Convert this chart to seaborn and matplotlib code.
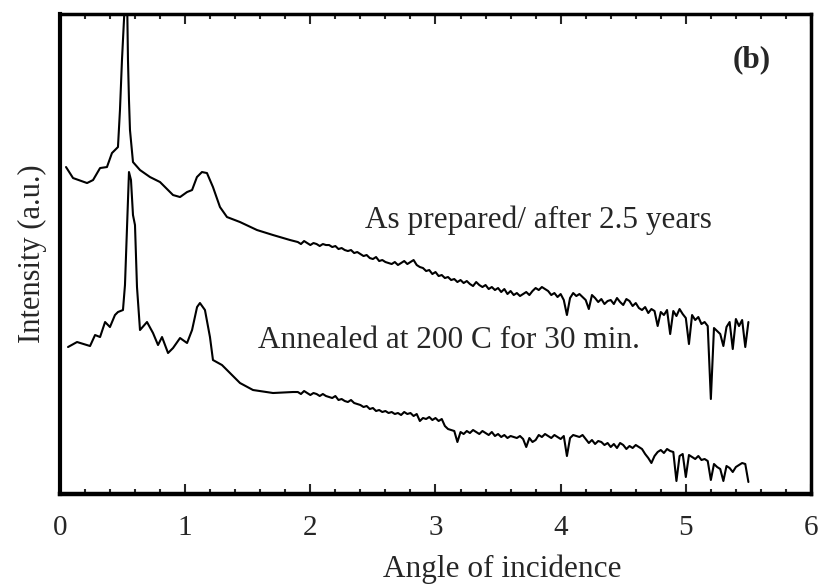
import numpy as np
import pandas as pd
import matplotlib
matplotlib.use("Agg")
import matplotlib.pyplot as plt
from matplotlib.ticker import MultipleLocator
import seaborn as sns

# ---------------- data (angle of incidence, intensity in a.u.) ----------------
# low-angle part, read point by point
prep_angle_low = [0.048, 0.104, 0.216, 0.264, 0.320, 0.375, 0.415, 0.463, 0.479, 0.495,
                  0.511, 0.523, 0.535, 0.543, 0.551, 0.559, 0.583, 0.639, 0.719, 0.799,
                  0.903, 0.959, 1.015, 1.055, 1.094, 1.134, 1.174, 1.222, 1.278, 1.334,
                  1.438, 1.574, 1.702, 1.838]
prep_int_low = [327, 316, 311, 314, 326, 327, 341, 347, 384, 434,
                474, 504, 504, 434, 394, 364, 332, 324, 317, 312,
                299, 297, 302, 304, 317, 322, 321, 307, 287, 277,
                272, 264, 259, 254]

ann_angle_low = [0.064, 0.136, 0.240, 0.280, 0.320, 0.360, 0.399, 0.439, 0.463, 0.503,
                 0.519, 0.535, 0.551, 0.567, 0.583, 0.599, 0.615, 0.639, 0.695, 0.743,
                 0.783, 0.815, 0.863, 0.903, 0.959, 1.015, 1.055, 1.095, 1.118, 1.158,
                 1.198, 1.222, 1.294, 1.358, 1.438, 1.542, 1.702, 1.862]
ann_int_low = [147, 152, 148, 159, 157, 172, 167, 179, 182, 184,
               209, 264, 322, 314, 279, 269, 207, 164, 172, 161,
               149, 157, 141, 146, 156, 151, 164, 187, 191, 184,
               157, 134, 129, 121, 111, 104, 101, 102]

# noisy high-angle part, sampled every 0.025 degree from 1.9 to 5.5
angle_step = 0.025
angle_start = 1.9
prep_int_high = [252, 250, 253, 251, 249, 251, 250, 248, 250, 249,
                 249, 247, 248, 245, 246, 244, 243, 244, 241, 242,
                 240, 238, 239, 236, 235, 237, 233, 234, 232, 231,
                 230, 232, 229, 231, 233, 230, 232, 234, 229, 227,
                 226, 223, 224, 220, 222, 218, 219, 216, 217, 214,
                 215, 212, 214, 211, 213, 210, 208, 212, 209, 207,
                 209, 205, 207, 204, 206, 202, 205, 200, 203, 199,
                 201, 198, 200, 202, 199, 203, 206, 204, 207, 205,
                 203, 199, 201, 197, 200, 194, 179, 196, 201, 198,
                 200, 197, 194, 185, 199, 196, 192, 195, 190, 193,
                 194, 190, 196, 192, 189, 195, 193, 188, 191, 186,
                 184, 187, 181, 185, 183, 168, 182, 179, 184, 160,
                 183, 178, 185, 180, 176, 150, 179, 174, 177, 170,
                 172, 168, 95, 166, 163, 160, 148, 167, 172, 145,
                 175, 168, 174, 147, 172]
ann_int_high = [102, 100, 103, 101, 99, 101, 100, 98, 100, 98,
                97, 96, 98, 94, 95, 93, 92, 94, 91, 90,
                89, 87, 88, 85, 86, 83, 84, 82, 83, 81,
                82, 80, 81, 79, 82, 80, 81, 78, 80, 73,
                76, 75, 77, 74, 76, 73, 75, 68, 65, 64,
                63, 52, 62, 60, 63, 61, 64, 62, 60, 63,
                61, 59, 62, 58, 60, 57, 59, 56, 58, 57,
                56, 58, 55, 47, 56, 52, 54, 59, 57, 60,
                58, 56, 59, 57, 55, 58, 38, 56, 59, 58,
                57, 59, 55, 51, 54, 50, 53, 52, 49, 51,
                47, 50, 46, 51, 49, 45, 48, 46, 49, 47,
                45, 40, 36, 31, 38, 42, 44, 41, 45, 43,
                42, 13, 38, 40, 17, 39, 37, 35, 38, 34,
                35, 33, 14, 30, 27, 25, 13, 28, 26, 22,
                27, 29, 31, 30, 12]

x_ticks = [0, 1, 2, 3, 4, 5, 6]
label_prep = "As prepared/ after 2.5 years"
label_ann = "Annealed at 200 C for 30 min."
panel_label = "(b)"

# ---------------- build tables ----------------
angle_high = np.round(angle_start + angle_step * np.arange(len(prep_int_high)), 3)
df_prep = pd.DataFrame({"angle": np.concatenate([prep_angle_low, angle_high]),
                        "intensity": np.concatenate([prep_int_low, prep_int_high])})
df_ann = pd.DataFrame({"angle": np.concatenate([ann_angle_low, angle_high]),
                       "intensity": np.concatenate([ann_int_low, ann_int_high])})

# ---------------- style ----------------
sns.set_style("white")
plt.rcParams["font.family"] = ["Liberation Serif", "DejaVu Serif"]

fig = plt.figure(figsize=(8.21, 5.86), dpi=100)
ax = fig.add_axes([0.0731, 0.157, 0.9147, 0.819])

sns.lineplot(data=df_prep, x="angle", y="intensity", ax=ax, color="black",
             linewidth=1.5, estimator=None, sort=False)
sns.lineplot(data=df_ann, x="angle", y="intensity", ax=ax, color="black",
             linewidth=1.5, estimator=None, sort=False)

ax.set_xlim(0, 6)
ax.set_ylim(0, 480)
ax.set_xticks(x_ticks)
ax.set_xticklabels([str(t) for t in x_ticks], fontsize=21)
ax.xaxis.set_minor_locator(MultipleLocator(0.2))
ax.set_yticks([])
ax.tick_params(axis="x", which="major", direction="in", length=7, width=1.5,
               top=True, bottom=True, pad=15)
ax.tick_params(axis="x", which="minor", direction="in", length=3.5, width=1.5,
               top=True, bottom=True)

for side in ["left", "right", "top", "bottom"]:
    ax.spines[side].set_visible(True)
    ax.spines[side].set_color("black")
ax.spines["left"].set_linewidth(3.0)
ax.spines["bottom"].set_linewidth(3.2)
ax.spines["top"].set_linewidth(2.5)
ax.spines["right"].set_linewidth(2.5)

ax.set_xlabel("Angle of incidence", fontsize=22.5)
ax.set_ylabel("Intensity (a.u.)", fontsize=22)
ax.xaxis.set_label_coords(0.589, -0.127)
ax.yaxis.set_label_coords(-0.017, 0.5)

ax.text(2.44, 266, label_prep, fontsize=22.5, ha="left", va="baseline")
ax.text(1.58, 146, label_ann, fontsize=22.5, ha="left", va="baseline")
ax.text(5.375, 427, panel_label, fontsize=22.5, fontweight="bold", ha="left", va="baseline")

fig.savefig("out.png", dpi=100)
